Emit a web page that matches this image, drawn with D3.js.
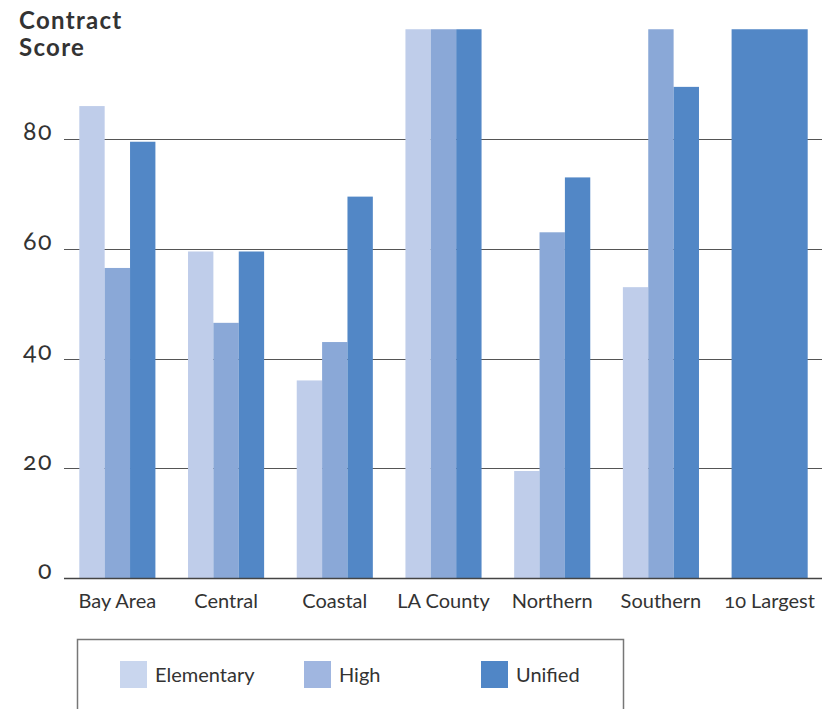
<!DOCTYPE html>
<html>
<head>
<meta charset="utf-8">
<script src="https://cdn.jsdelivr.net/npm/d3@7"></script>
<style>
body { margin: 0; font-size: 20px; font-feature-settings: "onum" 1; font-variant-numeric: oldstyle-nums; }
.lbl { font-family: Lato; position: absolute; white-space: nowrap; line-height: 1; color: #333; }
</style>
</head>
<body>
<svg width="830" height="709" style="position:absolute;left:0;top:0"></svg>
<script>
// Contract scores by region and district type
const categories = ["Bay Area", "Central", "Coastal", "LA County", "Northern", "Southern", "10 Largest"];
const seriesNames = ["Elementary", "High", "Unified"];
const elementary = [86, 59.5, 36, 100, 19.5, 53, null];
const high       = [56.5, 46.5, 43, 100, 63, 100, null];
const unified    = [79.5, 59.5, 69.5, 100, 73, 89.5, 100];
const yTicks = [0, 20, 40, 60, 80];
const titleLines = ["Contract", "Score"];

const barColors    = ["#bfcdea", "#8aa8d7", "#5287c6"];
const swatchColors = ["#c9d6ee", "#a0b6e0", "#5086c6"];

const seriesValues = [elementary, high, unified];

const svg = d3.select("svg");

// Labels are HTML so that old-style figures are used; positioned by baseline.
const ASC = 0.887; // Lato baseline offset for line-height 1
function label(text, xPos, baseline, size, anchor, opts = {}) {
  const el = d3.select("body").append("div")
    .attr("class", "lbl")
    .style("top", (baseline - ASC * size) + "px")
    .style("font-size", size + "px")
    .style("font-feature-settings", '"onum" 1')
    .style("font-variant-numeric", "oldstyle-nums")
    .text(text);
  if (opts.bold) el.style("font-weight", "700");
  if (opts.spacing) el.style("letter-spacing", opts.spacing + "px");
  const w = el.node().getBoundingClientRect().width;
  const left = anchor === "end" ? xPos - w : anchor === "middle" ? xPos - w / 2 : xPos;
  el.style("left", left + "px");
  return el;
}

const x = d3.scaleBand()
  .domain(categories)
  .range([63, 824])
  .paddingInner(0.3)
  .paddingOuter(0.15);

const y = d3.scaleLinear()
  .domain([0, 100])
  .range([578, 29.25]);

// horizontal gridlines
svg.append("g")
  .selectAll("line")
  .data(yTicks.filter(d => d > 0))
  .join("line")
  .attr("x1", 64).attr("x2", 822)
  .attr("y1", d => Math.round(y(d)) + 0.5)
  .attr("y2", d => Math.round(y(d)) + 0.5)
  .attr("stroke", "#555")
  .attr("stroke-width", 1.2);

// y tick labels
yTicks.forEach(t => label(String(t), 53, y(t) + 1.5, 25, "end", { spacing: 1.5 }));

// bars: one slot per series present in the category
const rows = categories.map((c, i) => {
  const present = seriesNames
    .map((s, k) => ({ series: s, k, value: seriesValues[k][i] }))
    .filter(d => d.value != null);
  const inner = d3.scaleBand().domain(present.map(d => d.series)).range([0, x.bandwidth()]);
  return present.map(d => ({ category: c, ...d, x0: x(c) + inner(d.series), w: inner.bandwidth() }));
}).flat();

svg.append("g")
  .selectAll("rect")
  .data(rows)
  .join("rect")
  .attr("x", d => d.x0)
  .attr("width", d => d.w)
  .attr("y", d => y(d.value))
  .attr("height", d => y(0) - y(d.value) + 1)
  .attr("fill", d => barColors[d.k]);

// baseline
svg.append("line")
  .attr("x1", 64).attr("x2", 822)
  .attr("y1", y(0) + 0.5).attr("y2", y(0) + 0.5)
  .attr("stroke", "#444")
  .attr("stroke-width", 1.5);

// category labels
categories.forEach(c => label(c, x(c) + x.bandwidth() / 2, 608, 20, "middle"));

// axis title
titleLines.forEach((t, i) => label(t, 19, 29 + i * 27, 24, "start", { bold: true, spacing: 1.3 }));

// legend
svg.append("path")
  .attr("d", "M77.5,712 V639.5 H623.5 V712")
  .attr("fill", "none")
  .attr("stroke", "#777")
  .attr("stroke-width", 1.5);

const legendX = [120, 304, 481];
svg.append("g")
  .selectAll("rect")
  .data(seriesNames)
  .join("rect")
  .attr("x", (d, i) => legendX[i])
  .attr("y", 661)
  .attr("width", 27).attr("height", 27)
  .attr("fill", (d, i) => swatchColors[i]);
seriesNames.forEach((s, i) => label(s, legendX[i] + 35, 682, 20, "start"));
</script>
</body>
</html>
